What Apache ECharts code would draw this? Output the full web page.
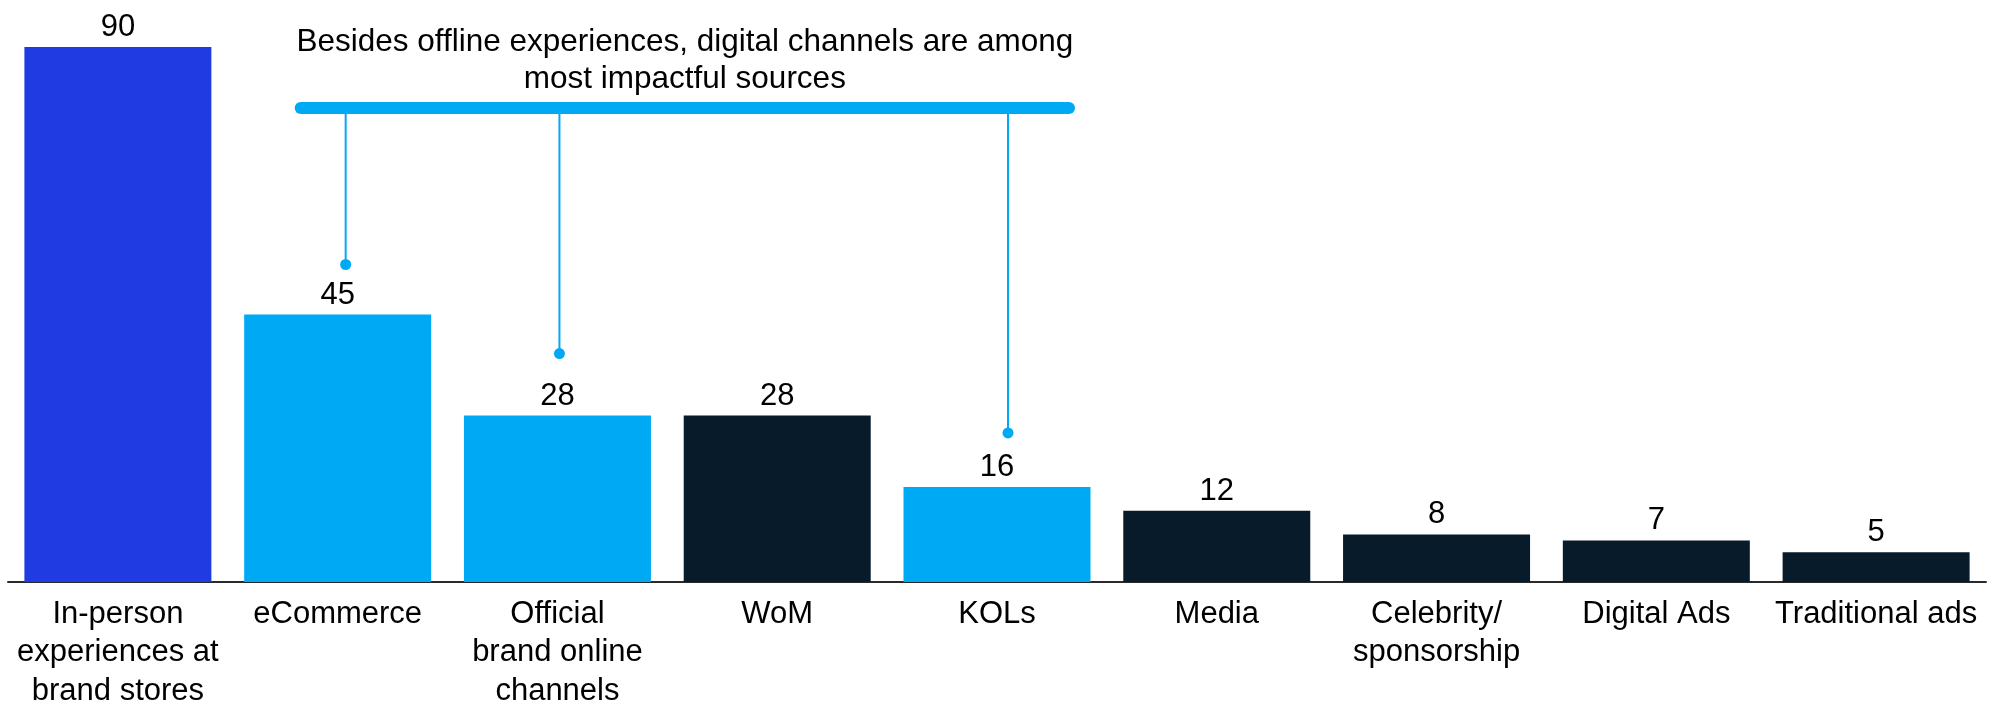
<!DOCTYPE html>
<html>
<head>
<meta charset="utf-8">
<script src="https://cdn.jsdelivr.net/npm/echarts@6/dist/echarts.min.js"></script>
<style>
  html, body { margin: 0; padding: 0; background: #ffffff; }
  #chart { width: 2002px; height: 702px; }
</style>
</head>
<body>
<div id="chart"></div>
<script>
// Sources of impact on purchase decisions
const categories = [
  'In-person\nexperiences at\nbrand stores',
  'eCommerce',
  'Official\nbrand online\nchannels',
  'WoM',
  'KOLs',
  'Media',
  'Celebrity/\nsponsorship',
  'Digital Ads',
  'Traditional ads'
];
const values = [90, 45, 28, 28, 16, 12, 8, 7, 5];
const groups = ['store', 'digital', 'digital', 'other', 'digital', 'other', 'other', 'other', 'other'];
const calloutText = 'Besides offline experiences, digital channels are among\nmost impactful sources';
const calloutIndices = [1, 2, 4];

const FONT = '"Liberation Sans", Arial, Helvetica, sans-serif';
const groupColors = { store: '#213BE3', digital: '#00A9F4', other: '#081B2A' };
const CALLOUT_COLOR = '#00A9F4';

const chart = echarts.init(document.getElementById('chart'), null, { renderer: 'canvas' });

const option = {
  animation: false,
  backgroundColor: '#ffffff',
  grid: { left: 8, right: 16, top: 47, bottom: 120, containLabel: false, outerBoundsMode: 'none' },
  xAxis: {
    type: 'category',
    data: categories,
    axisLine: { show: true, lineStyle: { color: '#2a2a2a', width: 2 } },
    axisTick: { show: false },
    axisLabel: {
      interval: 0,
      margin: 13,
      color: '#000000',
      fontSize: 31,
      lineHeight: 38.5,
      fontFamily: FONT
    }
  },
  yAxis: {
    type: 'value',
    min: 0,
    max: 90,
    show: false,
    splitLine: { show: false }
  },
  series: [{
    type: 'bar',
    barWidth: 187,
    data: values.map((v, i) => ({ value: v, itemStyle: { color: groupColors[groups[i]] } })),
    label: {
      show: true,
      position: 'top',
      distance: 4,
      color: '#000000',
      fontSize: 31,
      fontFamily: FONT
    }
  }]
};

chart.setOption(option);

// Bracket callout linking the digital channels
function drawCallout() {
  const toPx = (i, v) => chart.convertToPixel({ seriesIndex: 0 }, [i, v]);
  const bracketY = 108;
  const leftX = toPx(calloutIndices[0], 0)[0] - 37;
  const rightX = toPx(calloutIndices[calloutIndices.length - 1], 0)[0] + 72;
  const stemShift = [8, 2, 11];
  const dotGap = [50, 62, 54];

  const elements = [{
    type: 'line',
    shape: { x1: leftX, y1: bracketY, x2: rightX, y2: bracketY },
    style: { stroke: CALLOUT_COLOR, lineWidth: 12, lineCap: 'round' },
    z: 10
  }, {
    type: 'text',
    style: {
      text: calloutText,
      x: (leftX + rightX) / 2,
      y: 60.5,
      align: 'center',
      verticalAlign: 'middle',
      fill: '#000000',
      fontSize: 31.5,
      lineHeight: 37,
      fontFamily: FONT
    },
    z: 10
  }];

  calloutIndices.forEach((idx, k) => {
    const top = toPx(idx, values[idx]);
    const x = top[0] + stemShift[k];
    const yDot = top[1] - dotGap[k];
    elements.push({
      type: 'line',
      shape: { x1: x, y1: bracketY, x2: x, y2: yDot },
      style: { stroke: CALLOUT_COLOR, lineWidth: 2 },
      z: 10
    });
    elements.push({
      type: 'circle',
      shape: { cx: x, cy: yDot, r: 5.5 },
      style: { fill: CALLOUT_COLOR },
      z: 10
    });
  });

  chart.setOption({ graphic: { elements: elements } });
}

drawCallout();
</script>
</body>
</html>
